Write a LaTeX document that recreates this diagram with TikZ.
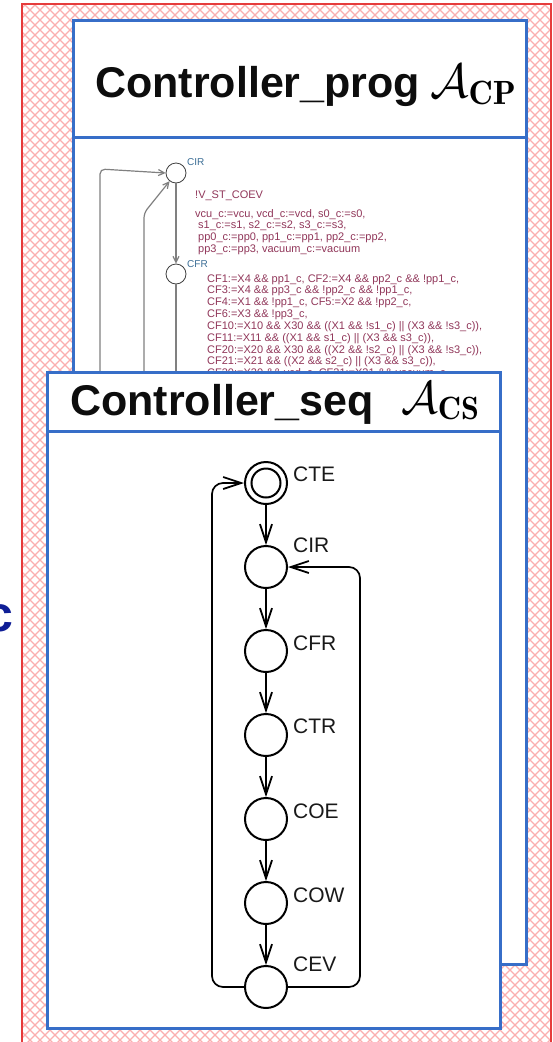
\documentclass[tikz,border=0pt]{standalone}
\usepackage{fontspec}
\usepackage{graphicx}
\newfontfamily\arial{Liberation Sans}
\usetikzlibrary{arrows.meta}
\definecolor{boxblue}{RGB}{55,110,200}
\definecolor{hatchpink}{RGB}{250,175,175}
\definecolor{borderred}{RGB}{230,60,60}
\definecolor{guardred}{RGB}{145,55,90}
\definecolor{loctext}{RGB}{60,110,150}
\definecolor{pgrey}{RGB}{128,128,128}
\definecolor{navyc}{RGB}{15,30,150}
\tikzset{
  box/.style={draw=boxblue, line width=3pt, fill=white, anchor=north west, inner sep=0, outer sep=0},
  sepline/.style={draw=boxblue, line width=3pt},
  titletext/.style={font=\arial\bfseries\fontsize{43}{50}\selectfont, text=black!95, anchor=base west, inner sep=0},
  mathtitle/.style={anchor=base west, inner sep=0},
  hatch/.style={hatchpink, line width=1.1pt},
  pstate/.style={circle, draw=black!75, line width=0.8pt, minimum size=20pt, inner sep=0, fill=white},
  pedge/.style={draw=pgrey, line width=1.2pt},
  parrow/.style={-{Straight Barb[length=6pt,width=6pt]}},
  ploc/.style={font=\arial\fontsize{10}{12}\selectfont, text=loctext, anchor=base west, inner sep=0},
  ptext/.style={font=\arial\fontsize{11}{12}\selectfont, text=guardred, anchor=base west, inner sep=0},
  sstate/.style={circle, draw=black, line width=2pt, minimum size=42pt, inner sep=0, fill=white},
  slabel/.style={font=\arial\fontsize{21}{24}\selectfont, text=black!90, anchor=base west, inner sep=0},
  sedge/.style={draw=black, line width=1.7pt},
  sarrow/.style={-{Straight Barb[length=18pt,width=12pt,line width=1.8pt]}},
}
\begin{document}
\begin{tikzpicture}[x=1pt,y=1pt]
\useasboundingbox (0,0) rectangle (553,-1042);
% hatched background
\begin{scope}
  \clip (22,-4) rectangle (551,-1050);
  \foreach \c in {-1100,-1090,...,1660} {
    \draw[hatch] (\c,0) -- ++(-1100,-1100);
    \draw[hatch] (\c,0) -- ++(1100,-1100);
  }
\end{scope}
\draw[borderred, line width=1.2pt] (22,-4) rectangle (551,-1050);

% Controller_prog box
\node[box, minimum width=453pt, minimum height=944pt] (prog) at (73,-20) {};
\draw[sepline] (73,-137) -- (526,-137);
\node[titletext] (progtitle) at (95,-97) {Controller\_prog};
\node[mathtitle] (progmath) at (430,-97) {\scalebox{4.8}{$\mathcal{A}_{\mathbf{CP}}$}};

% inner automaton
\node[pstate] (pCIR) at (176,-173) {};
\node[pstate] (pCFR) at (176,-274) {};
\node[ploc] (pCIRl) at (187,-165) {CIR};
\node[ploc] (pCFRl) at (187,-267) {CFR};
\coordinate (pL1) at (100,-385);
\coordinate (pL2) at (144,-385);
\coordinate (pL3) at (176,-385);
\draw[pedge, parrow, rounded corners=5] (pL1) -- (100,-169) -- (pCIR.west);
\draw[pedge, parrow, rounded corners=5] (pL2) -- (144,-213) -- (pCIR.232);
\draw[pedge, parrow] (pCIR.south) -- (pCFR.north);
\draw[pedge] (pCFR.south) -- (pL3);

\node[ptext] (g1) at (195,-198) {!V\_ST\_COEV};
\node[ptext] (a1) at (195,-217) {vcu\_c:=vcu, vcd\_c:=vcd, s0\_c:=s0,};
\node[ptext] (a2) at (198,-228.7) {s1\_c:=s1, s2\_c:=s2, s3\_c:=s3,};
\node[ptext] (a3) at (198,-240.4) {pp0\_c:=pp0, pp1\_c:=pp1, pp2\_c:=pp2,};
\node[ptext] (a4) at (198,-252.1) {pp3\_c:=pp3, vacuum\_c:=vacuum};

\node[ptext] (c1) at (207,-282) {CF1:=X4 \&\& pp1\_c, CF2:=X4 \&\& pp2\_c \&\& !pp1\_c,};
\node[ptext] (c2) at (207,-293.85) {CF3:=X4 \&\& pp3\_c \&\& !pp2\_c \&\& !pp1\_c,};
\node[ptext] (c3) at (207,-305.7) {CF4:=X1 \&\& !pp1\_c, CF5:=X2 \&\& !pp2\_c,};
\node[ptext] (c4) at (207,-317.55) {CF6:=X3 \&\& !pp3\_c,};
\node[ptext] (c5) at (207,-329.4) {CF10:=X10 \&\& X30 \&\& ((X1 \&\& !s1\_c) || (X3 \&\& !s3\_c)),};
\node[ptext] (c6) at (207,-341.25) {CF11:=X11 \&\& ((X1 \&\& s1\_c) || (X3 \&\& s3\_c)),};
\node[ptext] (c7) at (207,-353.1) {CF20:=X20 \&\& X30 \&\& ((X2 \&\& !s2\_c) || (X3 \&\& !s3\_c)),};
\node[ptext] (c8) at (207,-364.95) {CF21:=X21 \&\& ((X2 \&\& s2\_c) || (X3 \&\& s3\_c)),};
\node[ptext] (c9) at (207,-376.8) {CF30:=X30 \&\& vcd\_c, CF31:=X31 \&\& vacuum\_c,};

% Controller_seq box
\node[box, minimum width=453pt, minimum height=656pt] (seq) at (47,-372) {};
\draw[sepline] (47,-431) -- (500,-431);
\node[titletext] (seqtitle) at (70,-415) {Controller\_seq};
\node[mathtitle] (seqmath) at (401,-413) {\scalebox{4.6}{$\mathcal{A}_{\mathbf{CS}}$}};

\node[sstate] (sCTE) at (266,-483) {};
\draw[line width=2pt] (sCTE.center) circle (14.5);
\node[sstate] (sCIR) at (266,-567) {};
\node[sstate] (sCFR) at (266,-651) {};
\node[sstate] (sCTR) at (266,-735) {};
\node[sstate] (sCOE) at (266,-819) {};
\node[sstate] (sCOW) at (266,-903) {};
\node[sstate] (sCEV) at (266,-987) {};

\node[slabel] (lCTE) at (293,-481) {CTE};
\node[slabel] (lCIR) at (293,-552) {CIR};
\node[slabel] (lCFR) at (293,-650) {CFR};
\node[slabel] (lCTR) at (293,-733) {CTR};
\node[slabel] (lCOE) at (293,-818) {COE};
\node[slabel] (lCOW) at (293,-902) {COW};
\node[slabel] (lCEV) at (293,-971) {CEV};

\foreach \a/\b in {sCTE/sCIR, sCIR/sCFR, sCFR/sCTR, sCTR/sCOE, sCOE/sCOW, sCOW/sCEV} {
  \draw[sedge, sarrow] (\a.south) -- (\b.north);
}
\draw[sedge, sarrow, rounded corners=11] (sCEV.west) -- (212,-987) -- (212,-483) -- (sCTE.west);
\draw[sedge, sarrow, rounded corners=11] (sCEV.east) -- (360,-987) -- (360,-567) -- (sCIR.east);

% cut-off letter at the left edge
\node[font=\arial\bfseries\fontsize{50}{56}\selectfont, text=navyc, anchor=base east, inner sep=0] (cleft) at (14,-631) {c};
\end{tikzpicture}
\end{document}
